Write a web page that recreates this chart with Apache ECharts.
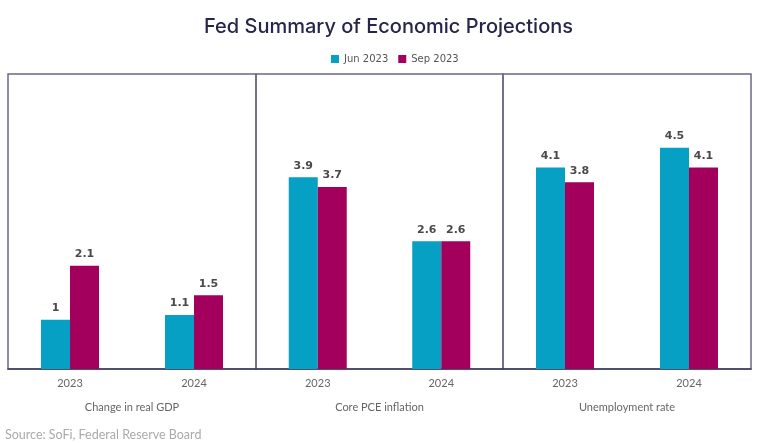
<!DOCTYPE html>
<html>
<head>
<meta charset="utf-8">
<script src="https://cdn.jsdelivr.net/npm/echarts@6/dist/echarts.min.js"></script>
<style>html,body{margin:0;padding:0;background:#fff}#c{width:758px;height:443px}</style>
</head>
<body>
<div id="c"></div>
<script>
var years = ['2023', '2024'];
var panelNames = ['Change in real GDP', 'Core PCE inflation', 'Unemployment rate'];
var jun2023 = [[1, 1.1], [3.9, 2.6], [4.1, 4.5]];
var sep2023 = [[2.1, 1.5], [3.7, 2.6], [3.8, 4.1]];
var seriesNames = ['Jun 2023', 'Sep 2023'];

var colors = ['#06a0c4', '#a3005e'];
var gridLefts = [8, 256, 503];
var gridWidths = [248, 247, 248];

var grids = [], xAxes = [], yAxes = [], series = [];
for (var i = 0; i < 3; i++) {
  grids.push({left: gridLefts[i], width: gridWidths[i], top: 74, height: 295, show: true, borderColor: '#6a6a84', borderWidth: 1.5, backgroundColor: 'transparent'});
  xAxes.push({
    type: 'category', gridIndex: i, data: years,
    axisLine: {show: true, lineStyle: {color: '#3d3c62', width: 1.5}},
    axisTick: {show: false},
    axisLabel: {color: '#666', fontFamily: 'Lato', fontSize: 11, margin: 9},
    name: panelNames[i], nameLocation: 'middle', nameGap: 33,
    nameTextStyle: {color: '#666', fontFamily: 'Lato', fontSize: 11}
  });
  yAxes.push({type: 'value', gridIndex: i, min: 0, max: 6, show: false, splitLine: {show: false}});
  var lbl = {show: true, position: 'top', distance: 6, color: '#4a4a4a', fontWeight: 'bold', fontFamily: 'DejaVu Sans', fontSize: 11};
  series.push({name: seriesNames[0], type: 'bar', xAxisIndex: i, yAxisIndex: i, data: jun2023[i], barWidth: 29, barGap: '0%', itemStyle: {color: colors[0]}, label: lbl});
  series.push({name: seriesNames[1], type: 'bar', xAxisIndex: i, yAxisIndex: i, data: sep2023[i], barWidth: 29, barGap: '0%', itemStyle: {color: colors[1]}, label: lbl});
}

var chart = echarts.init(document.getElementById('c'));
chart.setOption({
  animation: false,
  color: colors,
  title: [
    {text: 'Fed Summary of Economic Projections', left: 199, top: 12,
     textStyle: {color: '#27264a', fontFamily: 'Inter', fontWeight: 500, fontSize: 20}},
    {text: 'Source: SoFi, Federal Reserve Board', left: 0, top: 423,
     textStyle: {color: '#aaaaaa', fontFamily: 'Lato', fontWeight: 'normal', fontSize: 12.5}}
  ],
  legend: {data: seriesNames, top: 49, left: 326, itemWidth: 8, itemHeight: 8, itemGap: 10, icon: 'rect',
    textStyle: {color: '#555', fontFamily: 'DejaVu Sans', fontSize: 10}},
  grid: grids, xAxis: xAxes, yAxis: yAxes, series: series
});
</script>
</body>
</html>
